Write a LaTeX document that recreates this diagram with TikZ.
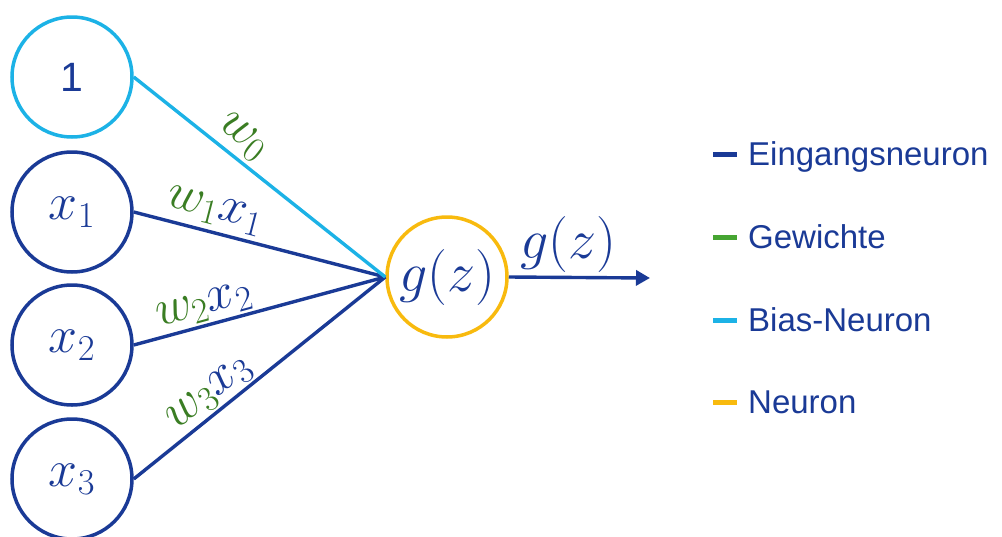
\RequirePackage{fix-cm}
\documentclass[tikz,border=0pt]{standalone}
\usepackage{fontspec}
\setmainfont{Liberation Sans}
\usetikzlibrary{arrows.meta}
\definecolor{dkblue}{RGB}{26,58,150}
\definecolor{ltblue}{RGB}{28,178,230}
\definecolor{nrorange}{RGB}{248,186,14}
\definecolor{wgreen}{RGB}{58,125,35}
\definecolor{leggreen}{RGB}{70,165,50}
\begin{document}
\begin{tikzpicture}[x=1pt,y=-1pt,
  neuron/.style={circle, draw, line width=3.5pt, minimum size=120pt, inner sep=0pt, text=dkblue},
  conn/.style={line width=3.4pt, draw=dkblue},
  mathfont/.style={font=\fontsize{52}{58}\selectfont},
  wlabel/.style={sloped, above, inner sep=0pt, text=dkblue, font=\fontsize{51}{56}\selectfont},
  legdash/.style={line width=5pt},
  legtext/.style={anchor=base west, text=dkblue, font=\fontsize{33}{38}\selectfont, inner sep=0pt}
]
\useasboundingbox (0,0) rectangle (1002,536);
\node[neuron, draw=ltblue, font=\fontsize{41}{44}\selectfont] (b) at (72,77) {1};
\node[neuron, draw=dkblue, mathfont] (x1) at (72,212) {$x_1$};
\node[neuron, draw=dkblue, mathfont] (x2) at (72,345) {$x_2$};
\node[neuron, draw=dkblue, mathfont] (x3) at (72,479) {$x_3$};
\node[neuron, draw=nrorange, font=\fontsize{56}{60}\selectfont] (g) at (447,277) {$g(z)$};
\draw[conn] (x1.east) -- node[wlabel, pos=0.3, inner sep=5pt] {$\textcolor{wgreen}{w_1}x_1$} (g.west);
\draw[conn] (x2.east) -- node[wlabel, pos=0.3, inner sep=2pt] {$\textcolor{wgreen}{w_2}x_2$} (g.west);
\draw[conn] (x3.east) -- node[wlabel, pos=0.35, inner sep=2pt] {$\textcolor{wgreen}{w_3}x_3$} (g.west);
\draw[conn, draw=ltblue] (b.east) -- node[wlabel, pos=0.38, inner sep=4pt] {$\textcolor{wgreen}{w_0}$} (g.west);
\coordinate (out) at (650,278);
\draw[conn, -{Triangle[length=14pt,width=15pt]}, fill=dkblue] (g.east) -- node[above, pos=0.42, font=\fontsize{56}{60}\selectfont, text=dkblue, inner sep=3pt] {$g(z)$} (out);
\node[legtext] (l1) at (748,165) {Eingangsneuron};
\node[legtext] (l2) at (748,248) {Gewichte};
\node[legtext] (l3) at (748,331) {Bias-Neuron};
\node[legtext] (l4) at (748,413) {Neuron};
\draw[legdash, dkblue] ([xshift=-35pt,yshift=11pt]l1.base west) -- ([xshift=-11pt,yshift=11pt]l1.base west);
\draw[legdash, leggreen] ([xshift=-35pt,yshift=11pt]l2.base west) -- ([xshift=-11pt,yshift=11pt]l2.base west);
\draw[legdash, ltblue] ([xshift=-35pt,yshift=11pt]l3.base west) -- ([xshift=-11pt,yshift=11pt]l3.base west);
\draw[legdash, nrorange] ([xshift=-35pt,yshift=11pt]l4.base west) -- ([xshift=-11pt,yshift=11pt]l4.base west);
\end{tikzpicture}
\end{document}
